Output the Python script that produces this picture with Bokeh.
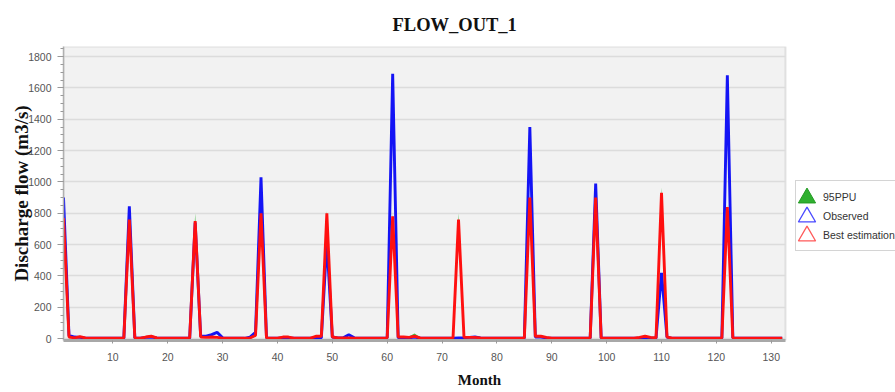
from bokeh.plotting import figure
from bokeh.models import Range1d, SingleIntervalTicker, Title, Legend, LegendItem, BoxAnnotation, Grid
from bokeh.embed import file_html
from bokeh.resources import INLINE

months = list(range(1, 133))

observed = [
    900, 20, 10, 8, 3, 3, 3, 3, 3, 3, 3, 3,
    845, 5, 3, 8, 10, 5, 2, 2, 2, 2, 2, 2,
    740, 15, 15, 25, 40, 5, 2, 2, 2, 2, 10, 40,
    1030, 5, 3, 3, 5, 5, 2, 2, 2, 2, 3, 5,
    620, 10, 5, 5, 25, 5, 2, 2, 2, 2, 2, 5,
    1690, 5, 5, 5, 10, 3, 2, 2, 2, 2, 2, 3,
    5, 5, 8, 10, 5, 2, 2, 2, 2, 2, 2, 2,
    3, 1350, 10, 10, 5, 2, 2, 2, 2, 2, 2, 2,
    3, 990, 5, 2, 2, 2, 2, 2, 2, 2, 2, 2,
    3, 420, 10, 2, 2, 2, 2, 2, 2, 2, 2, 2,
    3, 1680, 5, 2, 2, 2, 2, 2, 2, 2, 2, 2,
]

best_estimation = [
    770, 10, 5, 12, 5, 3, 3, 3, 3, 3, 3, 5,
    760, 5, 3, 10, 15, 5, 3, 3, 3, 3, 3, 5,
    750, 10, 8, 10, 8, 3, 3, 3, 3, 3, 5, 20,
    800, 5, 3, 3, 10, 10, 3, 3, 3, 3, 15, 15,
    800, 10, 5, 5, 5, 3, 3, 3, 3, 3, 3, 5,
    780, 10, 10, 8, 15, 5, 3, 3, 3, 3, 3, 5,
    760, 8, 8, 8, 5, 3, 3, 3, 3, 3, 3, 3,
    5, 900, 15, 15, 8, 3, 3, 3, 3, 3, 3, 3,
    5, 900, 5, 3, 3, 3, 3, 3, 3, 8, 15, 8,
    5, 930, 10, 3, 3, 3, 3, 3, 3, 3, 3, 3,
    5, 840, 5, 3, 3, 3, 3, 3, 3, 3, 3, 3,
]

ppu_upper = [
    785, 15, 10, 18, 8, 5, 5, 5, 5, 5, 5, 8,
    775, 10, 5, 15, 20, 8, 5, 5, 5, 5, 5, 8,
    800, 15, 12, 15, 12, 5, 5, 5, 5, 5, 8, 25,
    815, 8, 5, 5, 15, 15, 5, 5, 5, 5, 22, 22,
    815, 15, 8, 8, 8, 5, 5, 5, 5, 5, 5, 8,
    795, 15, 15, 15, 32, 8, 5, 5, 5, 5, 5, 8,
    800, 12, 12, 12, 8, 5, 5, 5, 5, 5, 5, 5,
    8, 915, 22, 22, 12, 5, 5, 5, 5, 5, 5, 5,
    8, 915, 8, 5, 5, 5, 5, 5, 5, 12, 22, 12,
    8, 965, 15, 5, 5, 5, 5, 5, 5, 5, 5, 5,
    8, 855, 8, 5, 5, 5, 5, 5, 5, 5, 5, 5,
]

ppu_lower = [
    740, 5, 2, 6, 2, 1, 1, 1, 1, 1, 1, 2,
    730, 2, 1, 5, 8, 2, 1, 1, 1, 1, 1, 2,
    720, 5, 4, 5, 4, 1, 1, 1, 1, 1, 2, 12,
    770, 2, 1, 1, 5, 5, 1, 1, 1, 1, 8, 8,
    770, 5, 2, 2, 2, 1, 1, 1, 1, 1, 1, 2,
    750, 5, 5, 4, 8, 2, 1, 1, 1, 1, 1, 2,
    730, 4, 4, 4, 2, 1, 1, 1, 1, 1, 1, 1,
    2, 870, 8, 8, 4, 1, 1, 1, 1, 1, 1, 1,
    2, 870, 2, 1, 1, 1, 1, 1, 1, 4, 8, 4,
    2, 900, 5, 1, 1, 1, 1, 1, 1, 1, 1, 1,
    2, 810, 2, 1, 1, 1, 1, 1, 1, 1, 1, 1,
]

legend_labels = ["95PPU", "Observed", "Best estimation"]

# axis extents of the plotting area
x_start, x_end = 1, 132.6
y_start, y_end = -12, 1864
# the frame also spans the legend strip to the right of the plotting area
plot_px, strip_px = 722, 110
frame_x_end = x_start + (x_end - x_start) * (plot_px + strip_px) / plot_px

p = figure(
    frame_width=plot_px + strip_px, frame_height=294,
    x_range=Range1d(x_start, frame_x_end), y_range=Range1d(y_start, y_end),
    output_backend="svg", toolbar_location=None,
    min_border_left=63, min_border_right=0, min_border_top=46, min_border_bottom=52,
    background_fill_color="white", border_fill_color="white",
)
p.outline_line_color = None

p.title = Title(text="FLOW_OUT_1", align="left", offset=329,
                text_font="Liberation Serif", text_font_style="bold",
                text_font_size="18.5px", text_color="#111111", standoff=24)

# plotting area background and border
plot_area = BoxAnnotation(left=x_start, right=x_end, fill_color="#f2f2f2", fill_alpha=1.0,
                          line_color="#a8a8a8", line_width=2, level="image")
p.add_layout(plot_area)

p.varea(x=months, y1=ppu_lower, y2=ppu_upper, fill_color="#44bb44", fill_alpha=1.0)
p.line(months, observed, line_color="#1414f5", line_width=2.9)
p.line(months, best_estimation, line_color="#ff1010", line_width=2.9)

# zero-size marker proxies: only their legend glyphs are seen
g_ppu = p.scatter(months, ppu_upper, size=0, marker="triangle",
                  fill_color="#2fb02f", line_color="#229a22", line_width=1)
g_obs = p.scatter(months, observed, size=0, marker="triangle",
                  fill_alpha=0, line_color="#4a4aff", line_width=1.3)
g_best = p.scatter(months, best_estimation, size=0, marker="triangle",
                   fill_alpha=0, line_color="#ff5a5a", line_width=1.3)
g_none = p.scatter(months, observed, size=0, marker="triangle",
                   fill_alpha=0, line_alpha=0)

legend_box = Legend(items=[LegendItem(label=lab, renderers=[g_none]) for lab in legend_labels],
                    location=(732, 89), margin=0, padding=6, spacing=0,
                    glyph_width=16, glyph_height=19, label_height=19, label_standoff=5,
                    label_text_font="Liberation Sans", label_text_font_size="10.5px",
                    label_text_color="#333333",
                    border_line_color="#aaaaaa", border_line_width=1,
                    background_fill_color="white", background_fill_alpha=1.0)
p.add_layout(legend_box)

for rend, ypos in zip([g_ppu, g_obs, g_best], [121, 102, 83]):
    tri = Legend(items=[LegendItem(label="", renderers=[rend])],
                 location=(722, ypos), margin=0, padding=0, spacing=0,
                 glyph_width=43, glyph_height=43, label_standoff=0, label_width=0,
                 border_line_alpha=0, background_fill_alpha=0)
    p.add_layout(tri)

p.xaxis.ticker = SingleIntervalTicker(interval=10, num_minor_ticks=0)
p.yaxis.ticker = SingleIntervalTicker(interval=200, num_minor_ticks=4)
p.xaxis.bounds = (x_start, x_end)

p.xaxis.axis_label = "Month"
p.yaxis.axis_label = "Discharge flow (m3/s)"
for ax in (p.xaxis, p.yaxis):
    ax.axis_label_text_font = "Liberation Serif"
    ax.axis_label_text_font_style = "bold"
    ax.axis_label_text_color = "#111111"
    ax.major_label_text_font = "Liberation Sans"
    ax.major_label_text_font_size = "10.5px"
    ax.major_label_text_color = "#555555"
    ax.major_tick_line_color = "#999999"
    ax.minor_tick_line_color = "#999999"

p.xaxis.axis_label_text_font_size = "15px"
p.yaxis.axis_label_text_font_size = "19px"
p.xaxis.axis_line_color = "#a8a8a8"
p.xaxis.axis_line_width = 3
p.xaxis.major_tick_in = 0
p.xaxis.major_tick_out = 3
p.xaxis.major_label_standoff = 9
p.xaxis.axis_label_standoff = 8

p.yaxis.axis_line_color = "#b0b0b0"
p.yaxis.axis_line_width = 1.5
p.yaxis.major_tick_in = 0
p.yaxis.major_tick_out = 6
p.yaxis.minor_tick_in = 0
p.yaxis.minor_tick_out = 3
p.yaxis.major_label_standoff = 6
p.yaxis.axis_label_standoff = -7

p.xgrid.grid_line_color = None
p.ygrid.grid_line_color = "#dcdcdc"
p.ygrid.grid_line_width = 1.5
if "cross_bounds" in Grid.properties():
    p.ygrid.cross_bounds = (x_start, x_end)
else:
    p.ygrid.grid_line_color = None

open("out.html", "w").write(file_html(p, INLINE))
